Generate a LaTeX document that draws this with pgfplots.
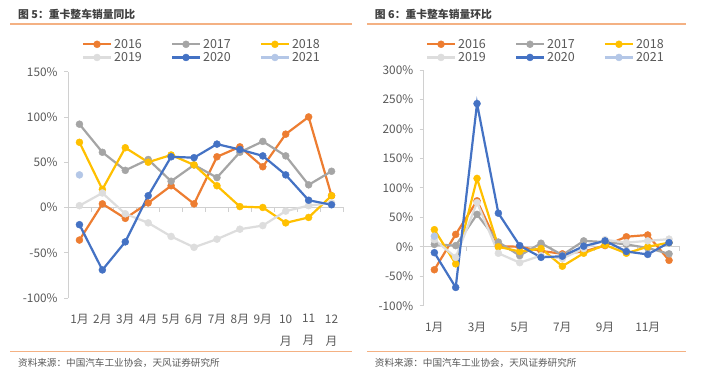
\documentclass[border=0pt]{standalone}
\usepackage{pgfplots}
\pgfplotsset{compat=1.18}
\usepackage{fontspec}
\setmainfont{Noto Sans CJK SC}
\definecolor{c16}{HTML}{ED7D31}
\definecolor{c17}{HTML}{A5A5A5}
\definecolor{c18}{HTML}{FFC000}
\definecolor{c19}{HTML}{DDDDDD}
\definecolor{c20}{HTML}{4472C4}
\definecolor{c21}{HTML}{B4C7E7}
\definecolor{axgray}{HTML}{D0D0D0}
\definecolor{lblgray}{HTML}{595959}
\definecolor{titlegray}{HTML}{404040}
\definecolor{rule}{HTML}{F4B183}

\pgfplotsset{
  ser/.style={color=#1, line width=2.2pt, mark=*, mark size=3.5pt, mark options={solid, fill=#1, line width=0.4pt}},
  common/.style={
    scale only axis, clip=false,
    axis y line*=left, axis x line*=bottom,
    x axis line style={draw=none},
    y axis line style={draw=axgray, line width=0.8pt},
    xmin=-0.5, xmax=11.5,
    tick align=outside, major tick length=4pt,
    xtick style={draw=none},
    ytick style={draw=axgray, line width=0.8pt},
    tick label style={text=lblgray},
    yticklabel style={font=\fontsize{11.8}{13}\selectfont, xshift=-3pt},
    xticklabel style={font=\fontsize{11.8}{22}\selectfont, align=center, yshift=-9pt},
    legend columns=3,
    legend cell align=left,
    legend style={draw=none, fill=none, inner sep=0pt, row sep=0pt,
      font=\fontsize{12.5}{13}\selectfont, text=lblgray,
      nodes={inner ysep=1.3pt, inner xsep=2pt},
      /tikz/every even column/.append style={column sep=27pt}},
    legend image code/.code={\draw[mark repeat=2,mark phase=2,##1] plot coordinates {(0pt,0pt)(14pt,0pt)(28pt,0pt)};},
  }
}

\begin{document}
\begin{tikzpicture}
\useasboundingbox (0pt,0pt) rectangle (704pt,379pt);
\fill[white] (0pt,0pt) rectangle (704pt,379pt);

% titles and rules
\node[anchor=west, inner sep=0pt, text=titlegray, font=\fontsize{10.8}{12}\bfseries] at (18pt,365pt) {图 5：重卡整车销量同比};
\node[anchor=west, inner sep=0pt, text=titlegray, font=\fontsize{10.8}{12}\bfseries] at (374.7pt,365pt) {图 6：重卡整车销量环比};
\draw[rule, line width=1.3pt] (10pt,355pt) -- (352pt,355pt);
\draw[rule, line width=1.3pt] (367pt,355pt) -- (686pt,355pt);
\draw[rule, line width=1.3pt] (10pt,27.3pt) -- (352pt,27.3pt);
\draw[rule, line width=1.3pt] (367pt,27.3pt) -- (686pt,27.3pt);
\node[anchor=west, inner sep=0pt, text=lblgray, font=\fontsize{9.6}{11}\selectfont] at (18pt,16.3pt) {资料来源：中国汽车工业协会，天风证券研究所};
\node[anchor=west, inner sep=0pt, text=lblgray, font=\fontsize{9.6}{11}\selectfont] at (374.7pt,16.3pt) {资料来源：中国汽车工业协会，天风证券研究所};

% ---------- left chart ----------
\begin{axis}[common,
  at={(68pt,81pt)}, anchor=south west,
  width=275pt, height=226.3pt,
  ymin=-100, ymax=150,
  ytick={-100,-50,0,50,100,150},
  yticklabels={-100\%,-50\%,0\%,50\%,100\%,150\%},
  xtick={0,...,11},
  xticklabels={1月,2月,3月,4月,5月,6月,7月,8月,9月,{10\\月},{11\\月},{12\\月}},
  legend style={at={(0.05,1.151)}, anchor=north west},
]
\addplot[axgray, line width=0.8pt, forget plot] coordinates {(-0.5,0) (11.5,0)};
\pgfplotsinvokeforeach{-0.5,0.5,1.5,2.5,3.5,4.5,5.5,6.5,7.5,8.5,9.5,10.5,11.5}{
  \addplot[axgray, line width=0.8pt, forget plot] coordinates {(#1,0) (#1,-4.5)};
}
\addplot[ser=c16] coordinates {(0,-36)(1,4)(2,-12)(3,5)(4,24)(5,4)(6,56)(7,67)(8,45)(9,81)(10,100)(11,13)};
\addlegendentry{2016}
\addplot[ser=c17] coordinates {(0,92)(1,61)(2,41)(3,53)(4,29)(5,47)(6,33)(7,61)(8,73)(9,57)(10,25)(11,40)};
\addlegendentry{2017}
\addplot[ser=c18] coordinates {(0,72)(1,20)(2,66)(3,50)(4,58)(5,47)(6,24)(7,1)(8,0)(9,-17)(10,-11)(11,13)};
\addlegendentry{2018}
\addplot[ser=c19] coordinates {(0,2)(1,16)(2,-7)(3,-17)(4,-32)(5,-44)(6,-35)(7,-24)(8,-20)(9,-4)(10,2)(11,5)};
\addlegendentry{2019}
\addplot[ser=c20] coordinates {(0,-19)(1,-69)(2,-38)(3,13)(4,56)(5,55)(6,70)(7,64)(8,57)(9,36)(10,8)(11,3)};
\addlegendentry{2020}
\addplot[ser=c21] coordinates {(0,36)};
\addlegendentry{2021}
\end{axis}

% ---------- right chart ----------
\begin{axis}[common,
  at={(423.7pt,73.3pt)}, anchor=south west,
  width=256pt, height=235.7pt,
  ymin=-100, ymax=300,
  ytick={-100,-50,0,50,100,150,200,250,300},
  yticklabels={-100\%,-50\%,0\%,50\%,100\%,150\%,200\%,250\%,300\%},
  xtick={0,2,4,6,8,10},
  xticklabels={1月,3月,5月,7月,9月,11月},
  legend style={at={(0.008,1.138)}, anchor=north west},
]
\addplot[axgray, line width=0.8pt, forget plot] coordinates {(-0.5,0) (11.5,0)};
\pgfplotsinvokeforeach{1.5,3.5,5.5,7.5,9.5,11.5}{
  \addplot[axgray, line width=0.8pt, forget plot] coordinates {(#1,0) (#1,-7)};
}
\addplot[ser=c16] coordinates {(0,-39)(1,21)(2,78)(3,1)(4,0)(5,-7)(6,-12)(7,-8)(8,2)(9,17)(10,20)(11,-23)};
\addlegendentry{2016}
\addplot[ser=c17] coordinates {(0,4)(1,2)(2,55)(3,8)(4,-15)(5,6)(6,-14)(7,10)(8,8)(9,4)(10,-2)(11,-12)};
\addlegendentry{2017}
\addplot[ser=c18] coordinates {(0,29)(1,-29)(2,116)(3,0)(4,-8)(5,-3)(6,-33)(7,-11)(8,3)(9,-11)(10,0)(11,7)};
\addlegendentry{2018}
\addplot[ser=c19] coordinates {(0,12)(1,-18)(2,75)(3,-11)(4,-27)(5,-15)(6,-20)(7,-3)(8,12)(9,7)(10,10)(11,13)};
\addlegendentry{2019}
\addplot[ser=c20] coordinates {(0,-10)(1,-69)(2,243)(3,57)(4,2)(5,-18)(6,-16)(7,1)(8,10)(9,-8)(10,-13)(11,7)};
\addlegendentry{2020}
\addplot[ser=c21] coordinates {(0,18)};
\addlegendentry{2021}
\end{axis}
\end{tikzpicture}
\end{document}
